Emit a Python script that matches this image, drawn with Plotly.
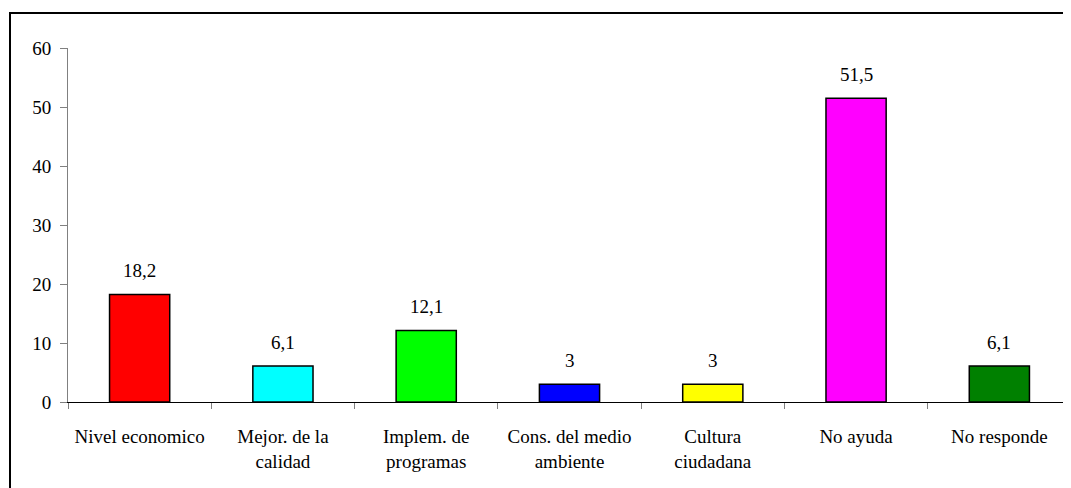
import plotly.graph_objects as go

categories = ["Nivel economico", "Mejor. de la<br>calidad", "Implem. de<br>programas",
              "Cons. del medio<br>ambiente", "Cultura<br>ciudadana", "No ayuda", "No responde"]
values = [18.2, 6.1, 12.1, 3, 3, 51.5, 6.1]
value_labels = ["18,2", "6,1", "12,1", "3", "3", "51,5", "6,1"]
colors = ["#FF0000", "#00FFFF", "#00FF00", "#0000FF", "#FFFF00", "#FF00FF", "#008000"]
y_ticks = [0, 10, 20, 30, 40, 50, 60]

# page has an 8px body margin; figure coordinates are page coordinates minus 8
OFF = 8
W, H = 1071 - OFF, 488 - OFF
L, R, T, B = 68 - OFF, 0, 48 - OFF, 488 - 402
pw, ph = W - L - R, H - T - B

def px_x(x):
    return (x - OFF - L) / pw

def px_y(y):
    return 1 - (y - OFF - T) / ph

FONT = "Times New Roman, Liberation Serif, DejaVu Serif, serif"

fig = go.Figure()
fig.add_trace(go.Bar(
    x=list(range(len(categories))), y=values,
    marker=dict(color=colors, line=dict(color="black", width=1.5)),
    width=0.42, showlegend=False, hoverinfo="skip",
))

annotations = []
for i, (v, t) in enumerate(zip(values, value_labels)):
    annotations.append(dict(x=i, y=v, xref="x", yref="y", text=t, showarrow=False,
                            yshift=24, font=dict(family=FONT, size=19, color="black")))
# partially visible (cut-off) title fragment
annotations.append(dict(x=px_x(203), y=px_y(10), xref="paper", yref="paper", text="<b>p</b>",
                        showarrow=False, xanchor="center", yanchor="bottom",
                        font=dict(family="Liberation Sans", size=18, color="black")))

fig.update_layout(
    width=W, height=H,
    margin=dict(l=L, r=R, t=T, b=B, pad=0),
    paper_bgcolor="white", plot_bgcolor="white",
    font=dict(family=FONT),
    annotations=annotations,
    shapes=[dict(type="rect", xref="paper", yref="paper",
                 x0=px_x(10), x1=px_x(1100), y0=px_y(540), y1=px_y(13),
                 line=dict(color="black", width=2), fillcolor="rgba(0,0,0,0)", layer="below")],
    xaxis=dict(
        type="linear", range=[-0.5, len(categories) - 0.5],
        tickmode="array", tickvals=list(range(len(categories))), ticktext=categories,
        showgrid=False, zeroline=False, showline=True, linecolor="black", linewidth=1,
        ticks="", ticklabelstandoff=17,
        tickfont=dict(family=FONT, size=19, color="black"),
    ),
    yaxis=dict(
        range=[0, 60], tickvals=y_ticks, showgrid=False, zeroline=False,
        showline=True, linecolor="#808080", linewidth=1,
        ticks="outside", ticklen=7, tickcolor="#808080", ticklabelstandoff=5,
        tickfont=dict(family=FONT, size=19, color="black"),
    ),
)

fig.update_xaxes(minor=dict(tickvals=[i - 0.5 for i in range(len(categories) + 1)],
                            ticks="outside", ticklen=6, tickcolor="#808080", showgrid=False))

fig.write_html("out.html")
